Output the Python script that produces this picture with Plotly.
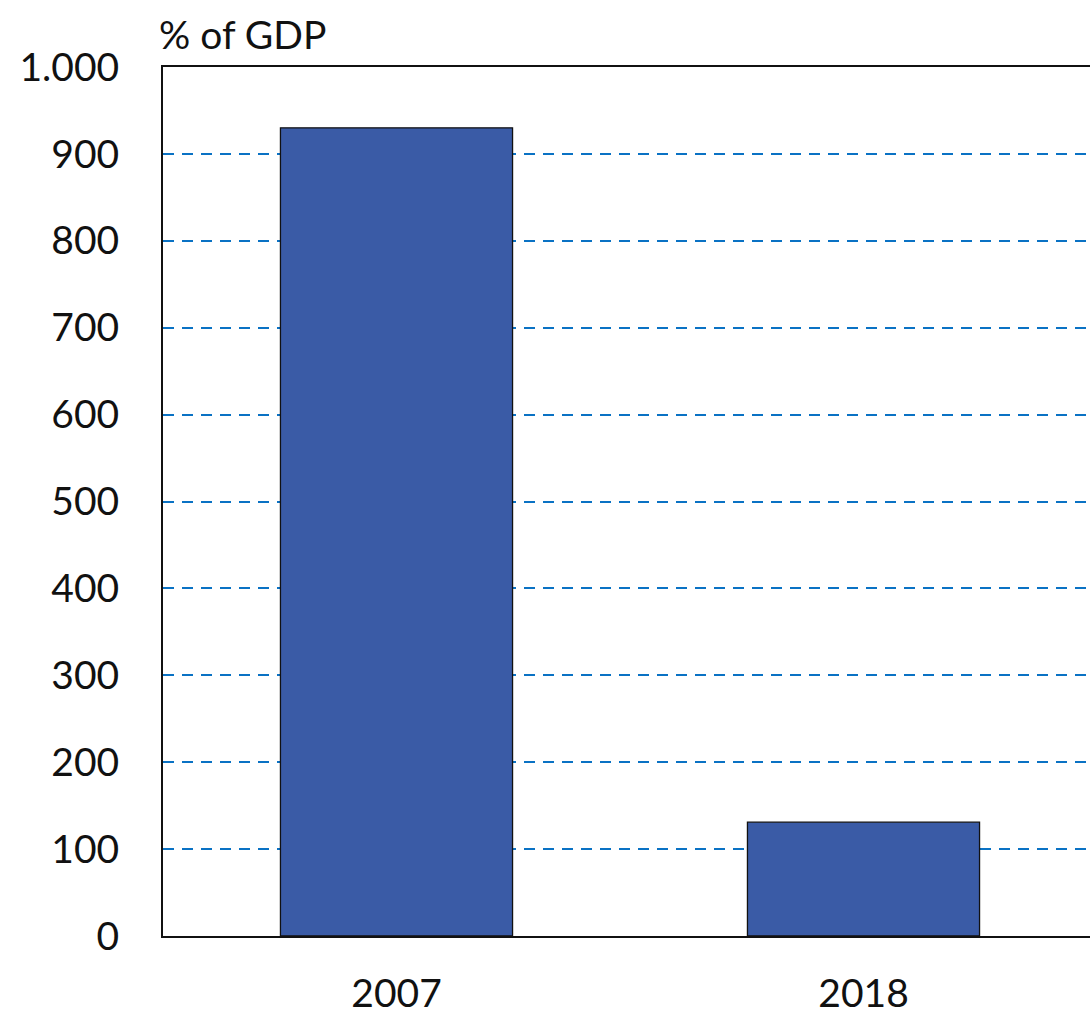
import plotly.graph_objects as go

# Data
years = ["2007", "2018"]
values = [930, 131]
tick_vals = [0, 100, 200, 300, 400, 500, 600, 700, 800, 900, 1000]
tick_text = ["0", "100", "200", "300", "400", "500", "600", "700", "800", "900", "1.000"]

FONT = "Lato, 'Open Sans', sans-serif"
FONT_SIZE = 39

fig = go.Figure(
    go.Bar(
        x=[0, 1],
        y=values,
        width=0.497,
        marker=dict(color="#3A5BA6", line=dict(color="#111111", width=1.3)),
    )
)

fig.update_layout(
    width=1090,
    height=1018,
    margin=dict(l=163, r=0, t=67, b=82),
    paper_bgcolor="white",
    plot_bgcolor="white",
    font=dict(family=FONT, size=FONT_SIZE, color="#111111"),
    showlegend=False,
    annotations=[
        dict(
            text="% of GDP",
            xref="paper", yref="paper",
            x=0, y=1,
            xanchor="left", yanchor="bottom",
            xshift=-6, yshift=8,
            showarrow=False,
            font=dict(family=FONT, size=FONT_SIZE, color="#111111"),
        )
    ],
)

fig.update_xaxes(
    range=[-0.5, 1.485],
    tickvals=[0, 1],
    ticktext=years,
    showgrid=False,
    zeroline=False,
    showline=True,
    linecolor="#111111",
    linewidth=2,
    mirror=True,
    ticks="",
    ticklabelstandoff=22,
    automargin=False,
)

fig.update_yaxes(
    range=[0, 1000],
    tickvals=tick_vals,
    ticktext=tick_text,
    showgrid=True,
    gridcolor="#0A72C4",
    gridwidth=2,
    griddash="11px,8px",
    zeroline=False,
    showline=True,
    linecolor="#111111",
    linewidth=2,
    ticks="",
    ticklabelstandoff=34,
    automargin=False,
)

fig.write_html("out.html")
